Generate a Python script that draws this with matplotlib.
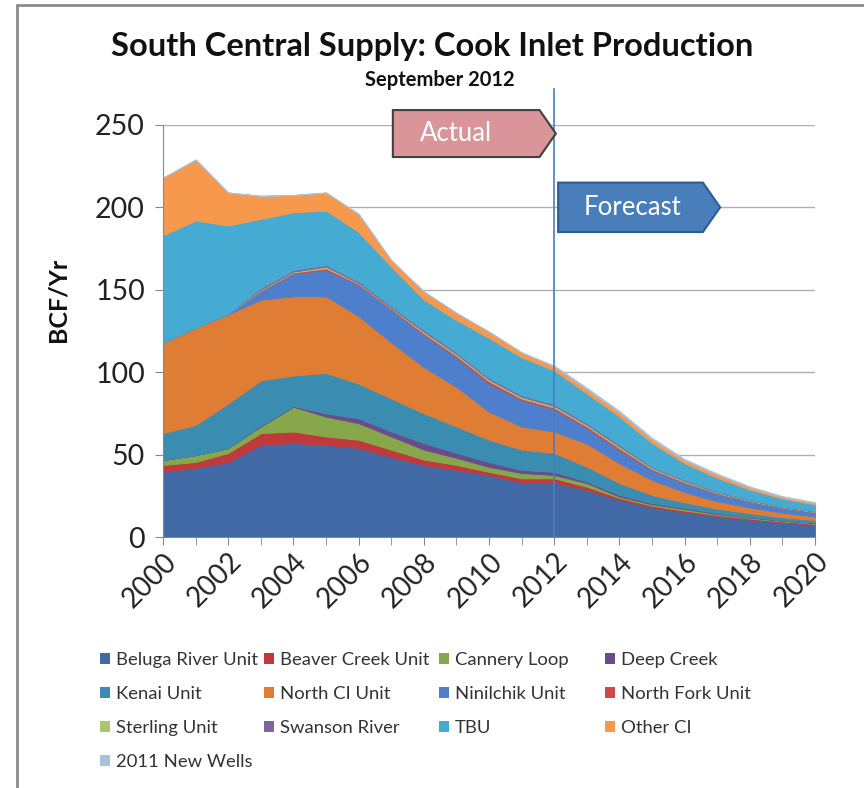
import numpy as np
import matplotlib
matplotlib.use('Agg')
import matplotlib.pyplot as plt
from matplotlib.patches import Polygon, Patch, Rectangle

plt.rcParams['font.family'] = ['Lato', 'DejaVu Sans']

years = list(range(2000, 2021))

# BCF/Yr per field, bottom to top of the stack
beluga = [39.6, 42, 45.5, 56, 57, 56, 54, 48.5, 43.7, 40.7, 37.6, 33, 33, 28.5, 22.5, 18, 15, 12.5, 10.5, 8.8, 7.5]
beaver = [4.1, 3.5, 5.5, 7, 7, 5, 5, 4.5, 3.3, 3, 1.9, 2.6, 2.6, 2, 1.2, 1, 1, 0.8, 0.7, 0.6, 0.5]
cannery = [3, 4.2, 3, 4, 15, 12, 10, 8, 6, 4.3, 3, 3.2, 2, 2.2, 0.8, 0.8, 1, 0.6, 0.5, 0.4, 0.4]
deep_creek = [0, 0, 0, 0.5, 0.5, 2, 3, 3, 4, 3, 3, 1.9, 1.9, 0.9, 1, 0.7, 0.6, 0.5, 0.4, 0.3, 0.3]
kenai = [16.3, 18.3, 27, 27.5, 18.5, 24.5, 21, 20, 18, 16, 13.5, 12.3, 11.5, 9, 7.2, 5, 3.4, 2.8, 2.3, 1.9, 1.6]
north_ci = [55, 59, 54, 49, 48, 46.5, 41, 34, 28, 24, 17, 14, 13, 14, 12, 9.1, 6.2, 4.5, 3.5, 2.7, 2.2]
ninilchik = [0, 0, 0.5, 5, 14, 16, 19, 20, 19.6, 18, 17, 16, 13.5, 9.5, 8, 6, 5.5, 4.5, 3.6, 2.9, 2.5]
north_fork = [0, 0, 0, 0.5, 0.5, 1, 0.5, 0.5, 0.9, 1, 1.5, 1, 1, 1, 1.2, 0.6, 0.6, 0.4, 0.3, 0.25, 0.2]
sterling = [0, 0, 0, 0.5, 0.5, 1, 0.5, 0.5, 1, 1, 1, 1, 1, 1, 1, 0.7, 0.7, 0.4, 0.3, 0.25, 0.2]
swanson = [0, 0, 0, 1, 1, 1, 1, 1, 1.1, 1, 1, 1, 1, 1, 1, 0.5, 0.6, 0.4, 0.3, 0.25, 0.2]
tbu = [65, 65, 53.5, 42, 35, 33, 30, 24, 18.4, 19.6, 24.2, 23, 20.5, 18, 17.1, 14.6, 10.1, 8.5, 6.3, 4.9, 4.2]
other_ci = [35, 37, 20, 14, 10.5, 11, 11, 4, 5, 4.4, 3.9, 3, 2.5, 2.5, 2.5, 2.2, 1.8, 1.8, 1.3, 1.0, 0.8]
new_wells = [0, 0, 0, 0, 0, 0, 0, 0, 0, 0, 0, 0, 0.5, 1, 1, 1, 0.8, 0.8, 0.7, 0.6, 0.5]

series = [beluga, beaver, cannery, deep_creek, kenai, north_ci, ninilchik,
          north_fork, sterling, swanson, tbu, other_ci, new_wells]
labels = ['Beluga River Unit', 'Beaver Creek Unit', 'Cannery Loop', 'Deep Creek',
          'Kenai Unit', 'North CI Unit', 'Ninilchik Unit', 'North Fork Unit',
          'Sterling Unit', 'Swanson River', 'TBU', 'Other CI', '2011 New Wells']
colors = ['#4169A5', '#C0393B', '#86A84A', '#6A4C8C', '#3A8DB0', '#DE7D33',
          '#4E7FCC', '#D0484A', '#A9C56E', '#8064A2', '#45ABD2', '#F7994C', '#A9C1DC']

fig = plt.figure(figsize=(8.64, 7.88), dpi=100)
ax = fig.add_axes([0.1887, 0.3185, 0.7546, 0.523])

polys = ax.stackplot(years, *series, colors=colors, labels=labels, zorder=2)
for p in polys:
    p.set_edgecolor(p.get_facecolor())
    p.set_linewidth(0.6)

ax.set_xlim(2000, 2020)
ax.set_ylim(0, 250)
ax.set_yticks(range(0, 251, 50))
ax.set_xticks(years, minor=True)
ax.set_xticks(range(2000, 2021, 2))
ax.tick_params(axis='y', labelsize=20.5, length=6, color='#888888', labelcolor='#222222', pad=7)
ax.tick_params(axis='x', which='both', length=6, color='#888888')
ax.tick_params(axis='x', labelsize=20, labelcolor='#222222', pad=2)
plt.setp(ax.get_xticklabels(), rotation=45, ha='right', rotation_mode='anchor')
ax.grid(axis='y', color='#B0B0B0', lw=1, zorder=0)
ax.set_axisbelow(True)
for s in ['top', 'right']:
    ax.spines[s].set_visible(False)
ax.spines['left'].set_color('#888888')
ax.spines['bottom'].set_color('#888888')

# 2012 divider
ax.plot([2012, 2012], [0, 272], color='#4A7EBB', lw=1.2, zorder=3, clip_on=False)

# Actual / Forecast arrows
actual = Polygon([(2007.05, 230.5), (2011.55, 230.5), (2012.05, 244.75),
                  (2011.55, 259), (2007.05, 259)], closed=True,
                 facecolor='#D9959A', edgecolor='#404040', lw=1.5, zorder=4, clip_on=False)
ax.add_patch(actual)
ax.text(2009.0, 244.5, 'Actual', color='white', fontsize=18.5, ha='center', va='center', zorder=5)

forecast = Polygon([(2012.12, 185), (2016.56, 185), (2017.09, 200),
                    (2016.56, 215), (2012.12, 215)], closed=True,
                   facecolor='#4A7EBB', edgecolor='#2F5B93', lw=1.5, zorder=4, clip_on=False)
ax.add_patch(forecast)
ax.text(2014.4, 200, 'Forecast', color='white', fontsize=18.5, ha='center', va='center', zorder=5)

fig.text(0.5, 0.941, 'South Central Supply: Cook Inlet Production', fontsize=23.5,
         fontweight='bold', ha='center', va='center', color='#111111')
fig.text(0.509, 0.898, 'September 2012', fontsize=14.5, fontweight='bold',
         ha='center', va='center', color='#111111')
fig.text(0.067, 0.62, 'BCF/Yr', fontsize=18, fontweight='bold', rotation=90,
         ha='center', va='center', color='#111111')

# legend laid out in four fixed columns, row-major like the original
handles = [Patch(facecolor=c, edgecolor='none') for c in colors]
col_x = [108, 272, 447, 613]
for col in range(4):
    idx = list(range(col, len(labels), 4))
    leg = fig.legend([handles[i] for i in idx], [labels[i] for i in idx],
                     loc='upper left', bbox_to_anchor=((col_x[col] - 8) / 864, 1 - 652 / 788),
                     frameon=False, fontsize=13.3, handlelength=0.55, handleheight=0.55,
                     handletextpad=0.3, labelspacing=0.98, borderaxespad=0, borderpad=0)
    for t in leg.get_texts():
        t.set_color('#333333')

# chart frame
fig.patches.append(Rectangle((17 / 864, -0.1), 1.2, 1.1 - 5 / 788, transform=fig.transFigure,
                             fill=False, edgecolor='#8C8C8C', lw=2))

fig.savefig('out.png', dpi=100, facecolor='white')
